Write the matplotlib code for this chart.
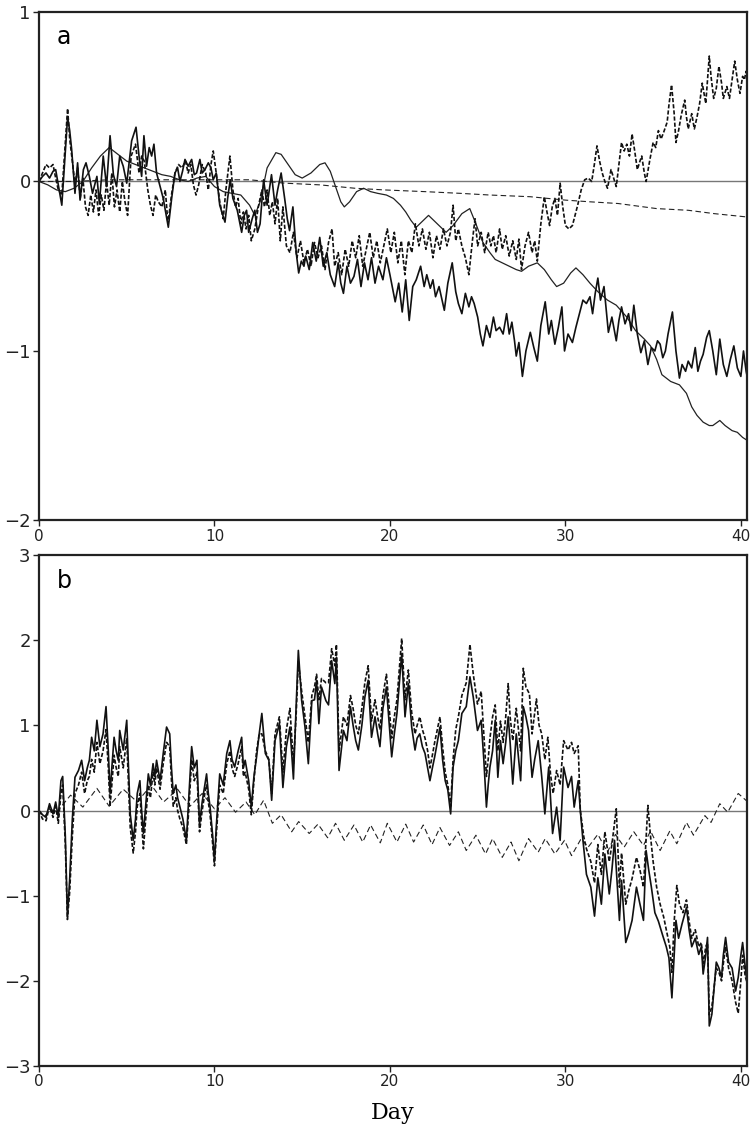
import matplotlib
matplotlib.use("Agg")
import matplotlib.pyplot as plt
import numpy as np

# ---------------- panel a ----------------
# thick solid (day, value)
a_thick_solid = [
    (0.0, 0.0), (0.2, 0.03), (0.4, 0.05), (0.6, 0.02), (0.8, 0.06), (0.95, 0.07), (1.1, -0.02),
    (1.3, -0.14), (1.45, 0.1), (1.63, 0.38), (1.75, 0.3), (1.86, 0.19), (2.05, -0.07), (2.2, 0.11),
    (2.34, -0.11), (2.53, 0.07), (2.68, 0.11), (2.87, 0.03), (3.05, -0.07), (3.3, 0.03), (3.44, -0.13),
    (3.66, 0.15), (3.85, -0.03), (4.05, 0.27), (4.24, 0.04), (4.42, -0.03), (4.6, 0.15), (4.8, 0.09),
    (5.0, -0.01), (5.28, 0.24), (5.53, 0.32), (5.72, 0.13), (5.85, 0.03), (5.98, 0.27), (6.13, 0.09),
    (6.28, 0.2), (6.42, 0.15), (6.55, 0.22), (6.7, 0.05), (6.9, -0.03), (7.08, -0.1), (7.37, -0.27),
    (7.56, -0.1), (7.75, 0.05), (7.9, 0.08), (8.03, 0.0), (8.18, 0.06), (8.32, 0.13), (8.5, 0.09),
    (8.7, 0.13), (8.85, 0.04), (8.98, 0.05), (9.17, 0.13), (9.3, 0.05), (9.46, 0.07), (9.65, 0.11),
    (9.8, 0.08), (9.93, 0.01), (10.1, 0.05), (10.3, -0.14), (10.6, -0.24), (10.75, -0.1), (10.9, 0.01),
    (11.05, -0.1), (11.3, -0.17), (11.55, -0.3), (11.7, -0.2), (11.83, -0.17), (11.95, -0.3),
    (12.15, -0.22), (12.3, -0.17), (12.45, -0.3), (12.6, -0.25), (12.8, 0.01), (13.0, -0.14),
    (13.25, 0.04), (13.45, -0.14), (13.6, -0.05), (13.8, 0.05), (14.0, -0.1), (14.15, -0.22),
    (14.28, -0.29), (14.47, -0.15), (14.66, -0.42), (14.8, -0.54), (14.95, -0.47), (15.1, -0.5),
    (15.2, -0.44), (15.4, -0.52), (15.6, -0.36), (15.8, -0.47), (16.0, -0.33), (16.2, -0.5),
    (16.4, -0.42), (16.6, -0.55), (16.85, -0.62), (17.05, -0.48), (17.2, -0.6), (17.35, -0.66),
    (17.55, -0.5), (17.75, -0.6), (17.95, -0.56), (18.15, -0.46), (18.35, -0.62), (18.55, -0.48),
    (18.75, -0.58), (18.95, -0.45), (19.15, -0.6), (19.35, -0.5), (19.6, -0.58), (19.8, -0.45),
    (20.0, -0.55), (20.3, -0.71), (20.5, -0.6), (20.7, -0.77), (20.9, -0.58), (21.1, -0.82),
    (21.3, -0.62), (21.5, -0.58), (21.75, -0.5), (21.95, -0.62), (22.1, -0.55), (22.3, -0.63),
    (22.45, -0.58), (22.6, -0.68), (22.8, -0.62), (23.1, -0.76), (23.3, -0.6), (23.55, -0.48),
    (23.75, -0.65), (23.9, -0.72), (24.1, -0.78), (24.3, -0.66), (24.5, -0.74), (24.65, -0.68),
    (24.8, -0.72), (25.0, -0.8), (25.15, -0.9), (25.3, -0.97), (25.5, -0.85), (25.7, -0.92),
    (25.9, -0.8), (26.05, -0.88), (26.25, -0.86), (26.45, -0.9), (26.65, -0.78), (26.8, -0.9),
    (26.95, -0.83), (27.1, -0.94), (27.2, -1.03), (27.35, -0.95), (27.55, -1.15), (27.75, -1.0),
    (28.0, -0.89), (28.2, -0.98), (28.4, -1.06), (28.6, -0.85), (28.85, -0.71), (29.05, -0.9),
    (29.2, -0.82), (29.4, -0.96), (29.6, -0.86), (29.8, -0.74), (29.95, -1.0), (30.15, -0.9),
    (30.4, -0.95), (30.6, -0.86), (30.8, -0.78), (31.0, -0.7), (31.2, -0.72), (31.4, -0.68),
    (31.55, -0.78), (31.7, -0.66), (31.85, -0.57), (32.0, -0.7), (32.2, -0.62), (32.45, -0.89),
    (32.65, -0.8), (32.9, -0.94), (33.05, -0.82), (33.2, -0.74), (33.4, -0.84), (33.6, -0.78),
    (33.75, -0.88), (33.9, -0.73), (34.1, -0.9), (34.3, -1.01), (34.5, -0.94), (34.7, -1.08),
    (34.9, -0.98), (35.1, -1.0), (35.25, -0.94), (35.4, -0.96), (35.55, -1.04), (35.7, -1.0),
    (35.85, -0.9), (36.1, -0.77), (36.3, -1.0), (36.5, -1.16), (36.65, -1.08), (36.85, -1.12),
    (37.0, -1.06), (37.2, -1.1), (37.4, -0.98), (37.55, -1.12), (37.7, -1.06), (37.85, -1.02),
    (38.05, -0.92), (38.2, -0.88), (38.4, -1.0), (38.6, -1.14), (38.8, -0.93), (39.0, -1.08),
    (39.2, -1.15), (39.4, -1.05), (39.6, -0.97), (39.8, -1.1), (40.0, -1.15), (40.15, -1.0),
    (40.3, -1.12), (40.4, -1.17),
]

# thick dashed (day, value)
a_thick_dash = [
    (0.0, 0.0), (0.2, 0.05), (0.4, 0.1), (0.6, 0.08), (0.8, 0.1), (0.95, 0.02), (1.1, -0.05),
    (1.3, -0.08), (1.45, 0.15), (1.63, 0.43), (1.75, 0.25), (1.9, 0.12), (2.05, -0.02), (2.2, 0.08),
    (2.35, -0.1), (2.5, 0.02), (2.65, -0.15), (2.8, -0.2), (2.95, -0.08), (3.1, -0.18), (3.25, -0.05),
    (3.4, -0.2), (3.55, -0.08), (3.7, -0.17), (3.85, 0.0), (4.0, -0.14), (4.15, 0.05), (4.3, -0.15),
    (4.45, -0.05), (4.6, -0.18), (4.75, 0.0), (4.9, -0.12), (5.05, -0.2), (5.25, 0.15), (5.5, 0.22),
    (5.7, 0.05), (5.85, 0.15), (6.0, 0.12), (6.2, -0.05), (6.35, -0.14), (6.5, -0.2), (6.65, -0.08),
    (6.8, -0.12), (7.0, -0.15), (7.2, -0.05), (7.35, -0.25), (7.55, -0.08), (7.75, 0.05), (7.95, 0.1),
    (8.15, 0.08), (8.35, 0.12), (8.5, 0.05), (8.65, 0.1), (8.8, -0.02), (8.95, -0.08), (9.1, -0.02),
    (9.3, 0.1), (9.5, 0.05), (9.65, -0.05), (9.8, 0.1), (9.93, 0.18), (10.1, 0.05), (10.3, -0.12),
    (10.5, -0.22), (10.65, -0.05), (10.88, 0.15), (11.05, -0.05), (11.2, -0.15), (11.35, -0.1),
    (11.5, -0.25), (11.65, -0.18), (11.8, -0.28), (11.95, -0.2), (12.1, -0.35), (12.3, -0.28),
    (12.5, -0.15), (12.7, -0.05), (12.85, -0.15), (13.0, -0.05), (13.15, -0.2), (13.3, -0.12),
    (13.45, -0.25), (13.6, -0.1), (13.75, -0.35), (13.9, -0.15), (14.1, -0.38), (14.3, -0.42),
    (14.5, -0.3), (14.7, -0.45), (14.9, -0.35), (15.1, -0.48), (15.3, -0.4), (15.5, -0.5),
    (15.7, -0.36), (15.9, -0.45), (16.1, -0.38), (16.3, -0.52), (16.5, -0.36), (16.7, -0.28),
    (16.85, -0.5), (17.05, -0.42), (17.25, -0.55), (17.45, -0.4), (17.65, -0.5), (17.85, -0.35),
    (18.05, -0.45), (18.25, -0.32), (18.45, -0.5), (18.65, -0.4), (18.85, -0.3), (19.05, -0.45),
    (19.25, -0.35), (19.45, -0.48), (19.65, -0.38), (19.85, -0.28), (20.05, -0.42), (20.25, -0.3),
    (20.45, -0.48), (20.65, -0.35), (20.85, -0.55), (21.05, -0.35), (21.25, -0.42), (21.45, -0.25),
    (21.65, -0.38), (21.85, -0.28), (22.05, -0.4), (22.25, -0.3), (22.45, -0.45), (22.65, -0.32),
    (22.85, -0.4), (23.05, -0.28), (23.25, -0.38), (23.45, -0.3), (23.6, -0.14), (23.75, -0.35),
    (23.9, -0.28), (24.1, -0.38), (24.3, -0.45), (24.5, -0.55), (24.7, -0.35), (24.85, -0.22),
    (25.0, -0.38), (25.2, -0.3), (25.4, -0.42), (25.6, -0.3), (25.75, -0.38), (25.9, -0.32),
    (26.05, -0.42), (26.25, -0.28), (26.4, -0.4), (26.6, -0.32), (26.8, -0.44), (27.0, -0.35),
    (27.2, -0.46), (27.35, -0.34), (27.5, -0.52), (27.7, -0.38), (27.9, -0.3), (28.1, -0.42),
    (28.25, -0.35), (28.4, -0.47), (28.6, -0.25), (28.8, -0.09), (28.95, -0.18), (29.1, -0.26),
    (29.25, -0.15), (29.4, -0.1), (29.55, -0.2), (29.7, -0.01), (29.85, -0.15), (30.0, -0.26),
    (30.2, -0.28), (30.4, -0.26), (30.55, -0.2), (30.7, -0.14), (30.9, -0.05), (31.1, 0.01),
    (31.3, 0.02), (31.5, 0.0), (31.65, 0.1), (31.8, 0.21), (31.95, 0.12), (32.1, 0.05), (32.25, 0.0),
    (32.4, -0.04), (32.6, 0.07), (32.75, 0.02), (32.9, -0.03), (33.05, 0.1), (33.2, 0.23),
    (33.35, 0.18), (33.5, 0.22), (33.65, 0.15), (33.8, 0.28), (33.95, 0.18), (34.1, 0.07),
    (34.25, 0.12), (34.35, 0.15), (34.5, 0.05), (34.6, 0.0), (34.8, 0.12), (35.0, 0.23), (35.15, 0.2),
    (35.3, 0.3), (35.45, 0.25), (35.6, 0.29), (35.8, 0.35), (35.9, 0.45), (36.05, 0.57), (36.2, 0.4),
    (36.3, 0.23), (36.45, 0.3), (36.6, 0.39), (36.8, 0.48), (36.9, 0.38), (37.0, 0.31), (37.2, 0.4),
    (37.35, 0.31), (37.5, 0.38), (37.65, 0.46), (37.8, 0.58), (38.0, 0.46), (38.2, 0.74),
    (38.3, 0.62), (38.45, 0.49), (38.6, 0.55), (38.75, 0.68), (38.9, 0.58), (39.0, 0.49),
    (39.2, 0.56), (39.35, 0.49), (39.5, 0.6), (39.65, 0.71), (39.8, 0.6), (39.95, 0.52), (40.1, 0.62),
    (40.2, 0.6), (40.3, 0.65), (40.4, 0.58),
]

# thin solid (day, value)
a_thin_solid = [
    (0.0, 0.0), (0.5, -0.02), (1.0, -0.05), (1.5, -0.06), (2.0, -0.04), (2.5, 0.0), (3.0, 0.08),
    (3.5, 0.15), (4.0, 0.2), (4.5, 0.16), (5.0, 0.12), (5.5, 0.1), (6.0, 0.08), (6.5, 0.06),
    (7.0, 0.04), (7.5, 0.03), (8.0, 0.01), (8.5, 0.0), (9.0, 0.02), (9.5, 0.03), (10.0, -0.03),
    (10.5, -0.06), (11.0, -0.07), (11.5, -0.08), (12.0, -0.14), (12.3, -0.2), (12.6, -0.12),
    (13.0, 0.08), (13.5, 0.17), (13.8, 0.16), (14.2, 0.1), (14.6, 0.04), (15.0, 0.02), (15.5, 0.05),
    (16.0, 0.1), (16.3, 0.11), (16.6, 0.06), (16.9, -0.03), (17.2, -0.12), (17.4, -0.15),
    (17.7, -0.12), (18.1, -0.06), (18.5, -0.04), (18.9, -0.06), (19.3, -0.07), (19.8, -0.08),
    (20.2, -0.1), (20.6, -0.14), (20.9, -0.18), (21.2, -0.23), (21.5, -0.27), (21.8, -0.24),
    (22.2, -0.2), (22.6, -0.24), (23.2, -0.3), (23.6, -0.26), (24.1, -0.19), (24.55, -0.16),
    (24.9, -0.25), (25.3, -0.36), (25.7, -0.42), (26.0, -0.46), (26.4, -0.48), (26.8, -0.5),
    (27.2, -0.52), (27.5, -0.53), (27.9, -0.5), (28.4, -0.48), (28.8, -0.52), (29.2, -0.58),
    (29.5, -0.62), (29.9, -0.6), (30.3, -0.54), (30.6, -0.51), (31.0, -0.55), (31.4, -0.6),
    (31.85, -0.65), (32.4, -0.7), (32.9, -0.73), (33.5, -0.8), (34.0, -0.88), (34.5, -0.93),
    (34.85, -0.97), (35.2, -1.05), (35.5, -1.14), (36.0, -1.18), (36.5, -1.2), (36.9, -1.25),
    (37.2, -1.33), (37.5, -1.38), (37.85, -1.42), (38.2, -1.44), (38.4, -1.44), (38.8, -1.41),
    (39.1, -1.44), (39.5, -1.47), (39.8, -1.48), (40.1, -1.51), (40.4, -1.53),
]

# thin dashed (day, value)
a_thin_dash = [
    (0.0, 0.0), (2.0, 0.0), (4.0, 0.01), (6.0, 0.01), (8.0, 0.01), (10.0, 0.01), (12.0, 0.01),
    (14.0, -0.01), (16.0, -0.02), (18.0, -0.04), (19.7, -0.05), (22.0, -0.06), (24.0, -0.07),
    (25.7, -0.08), (28.0, -0.09), (30.0, -0.11), (31.4, -0.12), (33.0, -0.13), (35.2, -0.16),
    (37.0, -0.17), (38.5, -0.19), (40.4, -0.21),
]

# ---------------- panel b ----------------
b_thick_solid = [
    (0.0, 0.0), (0.2, -0.05), (0.4, -0.08), (0.6, 0.08), (0.8, -0.04), (0.95, 0.1), (1.1, -0.08),
    (1.25, 0.35), (1.35, 0.4), (1.5, -0.3), (1.62, -1.25), (1.75, -0.8), (1.9, -0.1), (2.05, 0.39),
    (2.25, 0.47), (2.43, 0.59), (2.6, 0.35), (2.75, 0.5), (2.87, 0.59), (3.0, 0.86), (3.15, 0.7),
    (3.3, 1.06), (3.47, 0.75), (3.65, 0.9), (3.82, 1.22), (3.95, 0.7), (4.05, 0.2), (4.15, 0.5),
    (4.28, 0.86), (4.4, 0.7), (4.52, 0.59), (4.6, 0.94), (4.8, 0.71), (5.0, 1.06), (5.1, 0.5),
    (5.2, -0.04), (5.37, -0.35), (5.5, -0.1), (5.6, 0.2), (5.75, 0.35), (5.85, 0.0), (5.95, -0.27),
    (6.1, 0.1), (6.23, 0.43), (6.35, 0.3), (6.5, 0.55), (6.6, 0.4), (6.7, 0.59), (6.9, 0.35),
    (7.08, 0.67), (7.27, 0.98), (7.45, 0.9), (7.55, 0.5), (7.65, 0.2), (7.8, 0.3), (7.9, 0.15),
    (8.03, 0.04), (8.2, -0.1), (8.4, -0.35), (8.55, 0.2), (8.7, 0.75), (8.85, 0.5), (9.0, 0.59),
    (9.15, -0.16), (9.3, 0.1), (9.45, 0.3), (9.55, 0.43), (9.65, 0.2), (9.75, 0.04), (9.9, -0.3),
    (10.0, -0.6), (10.1, -0.2), (10.3, 0.43), (10.5, 0.3), (10.7, 0.67), (10.88, 0.82), (11.0, 0.6),
    (11.15, 0.51), (11.35, 0.7), (11.55, 0.86), (11.65, 0.5), (11.75, 0.59), (11.95, 0.35),
    (12.1, 0.04), (12.25, 0.4), (12.4, 0.63), (12.55, 0.9), (12.7, 1.14), (12.9, 0.67), (13.1, 0.59),
    (13.26, 0.12), (13.45, 0.82), (13.7, 1.02), (13.9, 0.27), (14.1, 0.75), (14.3, 0.98),
    (14.5, 0.37), (14.65, 1.2), (14.78, 1.88), (14.97, 1.29), (15.16, 0.98), (15.35, 0.55),
    (15.55, 1.29), (15.7, 1.3), (15.82, 1.53), (15.95, 1.02), (16.1, 1.45), (16.35, 1.29),
    (16.5, 1.24), (16.68, 1.76), (16.86, 1.49), (16.95, 1.8), (17.1, 0.47), (17.35, 0.94),
    (17.55, 0.82), (17.75, 1.22), (17.9, 1.0), (18.05, 0.82), (18.2, 0.71), (18.4, 1.0),
    (18.57, 1.33), (18.76, 1.53), (18.95, 0.86), (19.15, 1.1), (19.3, 0.9), (19.43, 0.75),
    (19.6, 1.2), (19.8, 1.45), (20.1, 0.63), (20.25, 0.9), (20.4, 1.14), (20.67, 1.84), (20.86, 1.1),
    (21.05, 1.49), (21.24, 0.98), (21.43, 0.71), (21.55, 0.85), (21.7, 0.9), (21.85, 0.75),
    (22.0, 0.67), (22.15, 0.5), (22.28, 0.35), (22.42, 0.5), (22.55, 0.63), (22.7, 0.8),
    (22.85, 0.98), (23.0, 0.6), (23.15, 0.35), (23.3, 0.24), (23.46, -0.04), (23.6, 0.51),
    (23.75, 0.7), (23.9, 0.82), (24.1, 1.14), (24.35, 1.22), (24.56, 1.57), (24.75, 1.33),
    (24.99, 0.94), (25.2, 1.06), (25.35, 0.6), (25.5, 0.04), (25.6, 0.3), (25.7, 0.51), (25.85, 0.7),
    (26.0, 1.06), (26.15, 0.39), (26.3, 0.82), (26.45, 0.55), (26.6, 0.8), (26.74, 1.1), (26.85, 0.8),
    (27.0, 0.31), (27.2, 0.9), (27.45, 0.35), (27.6, 1.22), (27.75, 1.1), (27.9, 0.94), (28.1, 0.39),
    (28.25, 0.6), (28.45, 0.82), (28.65, 0.4), (28.83, -0.04), (29.05, 0.51), (29.27, -0.27),
    (29.5, 0.04), (29.7, -0.35), (29.9, 0.51), (30.15, 0.27), (30.35, 0.4), (30.5, 0.04),
    (30.73, 0.35), (30.85, 0.0), (31.0, -0.35), (31.2, -0.75), (31.45, -0.9), (31.66, -1.24),
    (31.85, -0.79), (32.05, -1.1), (32.25, -0.51), (32.5, -0.98), (32.65, -0.7), (32.8, -0.35),
    (33.08, -1.29), (33.2, -0.82), (33.44, -1.55), (33.6, -1.45), (33.8, -1.29), (34.05, -0.9),
    (34.25, -1.1), (34.45, -1.29), (34.6, -0.47), (34.75, -0.7), (34.9, -0.9), (35.1, -1.2),
    (35.3, -1.3), (35.55, -1.47), (35.75, -1.6), (35.9, -1.73), (36.07, -2.2), (36.2, -1.7),
    (36.3, -1.29), (36.45, -1.5), (36.65, -1.33), (36.9, -1.14), (37.05, -1.4), (37.2, -1.6),
    (37.4, -1.5), (37.6, -1.69), (37.75, -1.6), (37.85, -1.92), (38.0, -1.7), (38.1, -1.49),
    (38.2, -2.53), (38.35, -2.39), (38.6, -1.78), (38.75, -1.85), (38.9, -1.96), (39.0, -1.7),
    (39.13, -1.49), (39.3, -1.78), (39.5, -1.85), (39.7, -2.12), (39.85, -1.96), (40.0, -1.7),
    (40.1, -1.55), (40.25, -1.84), (40.4, -2.1),
]

b_thick_dash = [
    (0.0, 0.0), (0.2, -0.1), (0.4, -0.12), (0.6, 0.05), (0.8, -0.08), (0.95, 0.05), (1.1, -0.15),
    (1.25, 0.2), (1.35, 0.3), (1.5, -0.4), (1.62, -1.28), (1.75, -0.95), (1.9, -0.3), (2.05, 0.2),
    (2.25, 0.3), (2.43, 0.45), (2.6, 0.2), (2.75, 0.35), (2.87, 0.4), (3.0, 0.6), (3.15, 0.45),
    (3.3, 0.8), (3.47, 0.55), (3.65, 0.7), (3.82, 0.95), (3.95, 0.5), (4.05, 0.05), (4.15, 0.3),
    (4.28, 0.65), (4.4, 0.5), (4.52, 0.4), (4.6, 0.75), (4.8, 0.5), (5.0, 0.85), (5.1, 0.3),
    (5.2, -0.2), (5.37, -0.5), (5.5, -0.25), (5.6, 0.05), (5.75, 0.2), (5.85, -0.15), (5.95, -0.45),
    (6.1, -0.05), (6.23, 0.3), (6.35, 0.15), (6.5, 0.45), (6.6, 0.3), (6.7, 0.5), (6.9, 0.25),
    (7.08, 0.55), (7.27, 0.8), (7.45, 0.75), (7.55, 0.35), (7.65, 0.05), (7.8, 0.15), (7.9, 0.0),
    (8.03, -0.1), (8.2, -0.2), (8.4, -0.4), (8.55, 0.05), (8.7, 0.6), (8.85, 0.35), (9.0, 0.45),
    (9.15, -0.25), (9.3, 0.0), (9.45, 0.2), (9.55, 0.3), (9.65, 0.1), (9.75, -0.05), (9.9, -0.4),
    (10.0, -0.65), (10.1, -0.3), (10.3, 0.3), (10.5, 0.2), (10.7, 0.55), (10.88, 0.7), (11.0, 0.5),
    (11.15, 0.4), (11.35, 0.55), (11.55, 0.75), (11.65, 0.4), (11.75, 0.45), (11.95, 0.25),
    (12.1, -0.05), (12.25, 0.35), (12.4, 0.7), (12.55, 0.9), (12.7, 0.9), (12.9, 0.7), (13.1, 0.6),
    (13.26, 0.2), (13.45, 0.9), (13.7, 1.1), (13.9, 0.45), (14.1, 0.95), (14.3, 1.2), (14.5, 0.55),
    (14.65, 1.1), (14.78, 1.75), (14.97, 1.4), (15.16, 1.1), (15.35, 0.8), (15.55, 1.35),
    (15.7, 1.45), (15.82, 1.6), (15.95, 1.3), (16.1, 1.55), (16.35, 1.5), (16.5, 1.5), (16.68, 1.9),
    (16.86, 1.7), (16.95, 1.95), (17.1, 0.7), (17.35, 1.1), (17.55, 1.0), (17.75, 1.35), (17.9, 1.2),
    (18.05, 1.0), (18.2, 0.9), (18.4, 1.2), (18.57, 1.5), (18.76, 1.7), (18.95, 1.05), (19.15, 1.3),
    (19.3, 1.1), (19.43, 0.95), (19.6, 1.35), (19.8, 1.6), (20.1, 0.85), (20.25, 1.1), (20.4, 1.3),
    (20.67, 2.02), (20.86, 1.3), (21.05, 1.65), (21.24, 1.15), (21.43, 0.9), (21.55, 1.0),
    (21.7, 1.1), (21.85, 0.95), (22.0, 0.85), (22.15, 0.7), (22.28, 0.5), (22.42, 0.65), (22.55, 0.8),
    (22.7, 0.95), (22.85, 1.1), (23.0, 0.75), (23.15, 0.45), (23.3, 0.3), (23.46, 0.05), (23.6, 0.6),
    (23.75, 0.95), (23.9, 1.1), (24.1, 1.35), (24.35, 1.5), (24.56, 1.95), (24.75, 1.6),
    (24.99, 1.25), (25.2, 1.4), (25.35, 0.9), (25.5, 0.4), (25.6, 0.6), (25.7, 0.85), (25.85, 1.1),
    (26.0, 1.24), (26.15, 0.7), (26.3, 1.05), (26.45, 0.8), (26.6, 1.1), (26.74, 1.49), (26.85, 1.1),
    (27.0, 0.82), (27.2, 1.2), (27.45, 0.7), (27.6, 1.67), (27.75, 1.45), (27.95, 1.37), (28.1, 0.9),
    (28.35, 1.31), (28.5, 1.0), (28.65, 0.9), (28.83, 0.6), (29.0, 0.86), (29.15, 0.43), (29.3, 0.2),
    (29.5, 0.47), (29.7, 0.3), (29.9, 0.82), (30.15, 0.71), (30.35, 0.8), (30.5, 0.67), (30.73, 0.76),
    (30.85, 0.0), (31.05, -0.31), (31.2, -0.45), (31.45, -0.6), (31.66, -0.85), (31.85, -0.4),
    (32.05, -0.75), (32.25, -0.25), (32.5, -0.6), (32.65, -0.4), (32.9, 0.02), (33.08, -0.9),
    (33.2, -0.5), (33.44, -1.1), (33.6, -0.95), (33.8, -0.8), (34.05, -0.55), (34.25, -0.7),
    (34.45, -0.9), (34.7, 0.06), (34.85, -0.3), (35.0, -0.6), (35.2, -0.9), (35.4, -1.1),
    (35.6, -1.25), (35.8, -1.45), (35.95, -1.6), (36.07, -1.9), (36.2, -1.3), (36.35, -0.88),
    (36.5, -1.1), (36.7, -1.2), (36.9, -1.05), (37.05, -1.3), (37.2, -1.5), (37.4, -1.4),
    (37.6, -1.6), (37.75, -1.55), (37.85, -1.8), (38.0, -1.6), (38.1, -1.55), (38.2, -2.4),
    (38.35, -2.3), (38.6, -1.85), (38.75, -1.9), (38.9, -2.0), (39.0, -1.8), (39.13, -1.6),
    (39.3, -1.85), (39.5, -2.0), (39.7, -2.25), (39.85, -2.38), (40.0, -2.0), (40.1, -1.7),
    (40.25, -1.95), (40.4, -2.05),
]

b_thin_dash = [
    (0.0, 0.0), (0.3, -0.08), (0.6, 0.02), (1.0, -0.02), (1.8, 0.18), (2.5, 0.04), (3.3, 0.26),
    (4.0, 0.05), (4.8, 0.25), (5.6, 0.1), (6.4, 0.3), (7.1, 0.1), (7.9, 0.25), (8.6, 0.05),
    (9.3, 0.2), (10.0, 0.02), (10.6, 0.15), (11.2, -0.02), (11.8, 0.1), (12.3, -0.05), (12.8, 0.12),
    (13.3, -0.15), (13.8, -0.05), (14.4, -0.25), (14.8, -0.13), (15.4, -0.27), (15.9, -0.16),
    (16.45, -0.32), (16.9, -0.15), (17.4, -0.35), (17.95, -0.17), (18.45, -0.37), (18.9, -0.17),
    (19.45, -0.38), (19.85, -0.15), (20.4, -0.37), (20.9, -0.16), (21.35, -0.37), (21.9, -0.17),
    (22.4, -0.4), (22.85, -0.2), (23.4, -0.41), (23.9, -0.25), (24.35, -0.47), (24.9, -0.29),
    (25.45, -0.51), (25.85, -0.33), (26.4, -0.55), (26.9, -0.37), (27.35, -0.59), (27.9, -0.33),
    (28.45, -0.49), (28.85, -0.33), (29.4, -0.51), (29.95, -0.35), (30.35, -0.53), (30.9, -0.33),
    (31.3, -0.43), (31.85, -0.28), (32.4, -0.49), (32.85, -0.28), (33.35, -0.43), (33.9, -0.25),
    (34.45, -0.41), (34.85, -0.24), (35.4, -0.47), (35.95, -0.24), (36.35, -0.39), (36.9, -0.14),
    (37.3, -0.29), (37.95, -0.06), (38.3, -0.14), (38.8, 0.08), (39.25, -0.02), (39.85, 0.2),
    (40.4, 0.1),
]

x_ticks = [0, 10, 20, 30, 40]
a_yticks = [-2, -1, 0, 1]
b_yticks = [-3, -2, -1, 0, 1, 2, 3]

TICK_FONT = ['Liberation Sans Narrow', 'DejaVu Sans']

fig = plt.figure(figsize=(7.5, 11.29), dpi=100)
ax1 = fig.add_axes([0.052, 0.5390, 0.944, 0.4504])
ax2 = fig.add_axes([0.052, 0.0558, 0.944, 0.4526])


def xy(pairs):
    d = np.array(pairs)
    return d[:, 0], d[:, 1]


def style(ax, ylim, yticks, label):
    ax.set_xlim(0, 40.35)
    ax.set_ylim(*ylim)
    ax.set_xticks(x_ticks)
    ax.set_yticks(yticks)
    ax.set_yticklabels([('\u2212' + str(-t)) if t < 0 else str(t) for t in yticks],
                       family=TICK_FONT, fontsize=13)
    ax.set_xticklabels([str(t) for t in x_ticks], family=TICK_FONT, fontsize=11)
    ax.tick_params(direction='out', length=4, width=1, pad=2, colors='#222222')
    for s in ax.spines.values():
        s.set_linewidth(1.6)
        s.set_color('#222222')
    ax.axhline(0, color='#777777', lw=1.0, zorder=1)
    ax.text(0.025, 0.95, label, transform=ax.transAxes, fontsize=17,
            family=['DejaVu Sans'], va='center', ha='left')


# panel a
x, y = xy(a_thin_dash)
ax1.plot(x, y, color='#222222', lw=0.8, dashes=(5, 3))
x, y = xy(a_thin_solid)
ax1.plot(x, y, color='#222222', lw=0.9)
x, y = xy(a_thick_dash)
ax1.plot(x, y, color='#111111', lw=1.2, dashes=(2.5, 1.2))
x, y = xy(a_thick_solid)
ax1.plot(x, y, color='#111111', lw=1.2)
style(ax1, (-2, 1), a_yticks, 'a')

# panel b
x, y = xy(b_thin_dash)
ax2.plot(x, y, color='#222222', lw=0.8, dashes=(5, 3))
x, y = xy(b_thick_dash)
ax2.plot(x, y, color='#111111', lw=1.2, dashes=(2.5, 1.2))
x, y = xy(b_thick_solid)
ax2.plot(x, y, color='#111111', lw=1.2)
style(ax2, (-3, 3), b_yticks, 'b')

fig.text(0.524, 0.0145, 'Day', family=['DejaVu Serif'],
         fontsize=16, ha='center', va='center')

fig.savefig('out.png', dpi=100)
